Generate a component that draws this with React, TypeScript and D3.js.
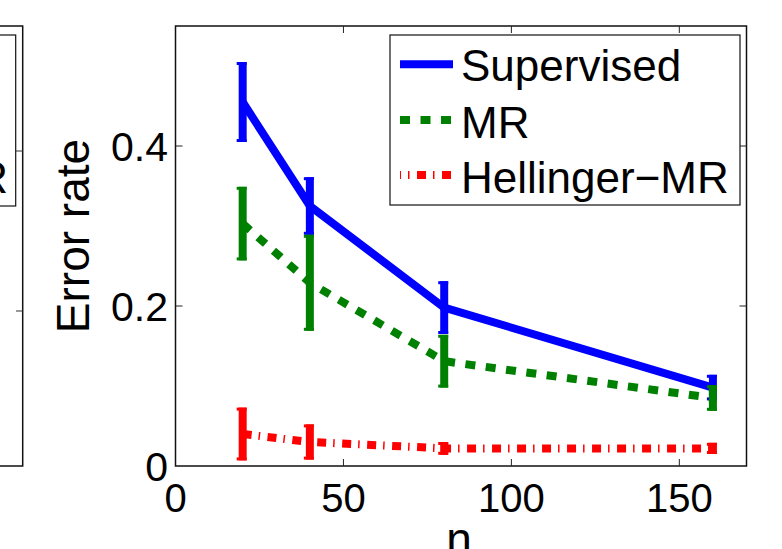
import React from "react";
import * as d3 from "d3";

const nValues = [20, 40, 80, 160];
const supervisedMean = [0.455, 0.325, 0.198, 0.098];
const supervisedErr = [0.05, 0.036, 0.033, 0.016];
const mrMean = [0.303, 0.229, 0.131, 0.085];
const mrErr = [0.046, 0.06, 0.033, 0.016];
const hellMean = [0.04, 0.03, 0.022, 0.022];
const hellErr = [0.033, 0.022, 0.008, 0.007];

const seriesNames = ["Supervised", "MR", "Hellinger\u2212MR"];
const seriesColors = ["#0000ff", "#008000", "#ff0000"];
const seriesDash = ["none", "10,10.5", "9,7,1.5,7.5"];

const xTicks = [0, 50, 100, 150];
const yTicks = [0, 0.2, 0.4];
const yTickLabels = ["0", "0.2", "0.4"];
const xLabel = "n";
const yLabel = "Error rate";

const W = 782;
const H = 549;
const FONT = "'Liberation Sans', Arial, Helvetica, sans-serif";

export default function App() {
  const left = 175.5, right = 746.5, top = 26, bottom = 466;
  const x = d3.scaleLinear().domain([0, 170]).range([left, right]);
  const y = d3.scaleLinear().domain([0, 0.55]).range([bottom, top]);

  const means = [supervisedMean, mrMean, hellMean];
  const errs = [supervisedErr, mrErr, hellErr];

  const line = d3
    .line<[number, number]>()
    .x((d) => x(d[0]))
    .y((d) => y(d[1]));

  const tickLen = 7;

  return (
    <svg
      width={W}
      height={H}
      viewBox={`0 0 ${W} ${H}`}
      style={{ position: "absolute", left: 0, top: 0, background: "#fff" }}
    >
      <rect x={0} y={0} width={W} height={H} fill="#fff" />

      {/* partial neighbouring plot on the left */}
      <g>
        <rect x={-400} y={top} width={422.7} height={bottom - top} fill="none" stroke="#111" strokeWidth={1.5} />
        {yTicks.slice(1).map((t, i) => (
          <line key={i} x1={16} x2={22.7} y1={y(t) + 5} y2={y(t) + 5} stroke="#333" strokeWidth={1} />
        ))}
        <rect x={-400} y={35} width={415.7} height={171} fill="#fff" stroke="#111" strokeWidth={1.2} />
        <text x={8} y={193} fontSize={44} fontFamily={FONT} textAnchor="end" fill="#000">
          {seriesNames[2]}
        </text>
      </g>

      {/* axes box */}
      <rect x={left} y={top} width={right - left} height={bottom - top} fill="#fff" stroke="#111" strokeWidth={1.5} />

      {/* ticks */}
      {xTicks.slice(1).map((t) => (
        <g key={"xt" + t}>
          <line x1={x(t)} x2={x(t)} y1={bottom} y2={bottom - tickLen} stroke="#222" strokeWidth={1} />
          <line x1={x(t)} x2={x(t)} y1={top} y2={top + tickLen} stroke="#222" strokeWidth={1} />
        </g>
      ))}
      {yTicks.slice(1).map((t) => (
        <g key={"yt" + t}>
          <line x1={left} x2={left + tickLen} y1={y(t)} y2={y(t)} stroke="#222" strokeWidth={1} />
          <line x1={right} x2={right - tickLen} y1={y(t)} y2={y(t)} stroke="#222" strokeWidth={1} />
        </g>
      ))}

      {/* tick labels */}
      {xTicks.map((t) => (
        <text key={"xl" + t} x={x(t)} y={512} fontSize={40} fontFamily={FONT} textAnchor="middle" fill="#000">
          {t}
        </text>
      ))}
      {yTicks.map((t, i) => (
        <text key={"yl" + t} x={168} y={y(t) + 15} fontSize={41} fontFamily={FONT} textAnchor="end" fill="#000">
          {yTickLabels[i]}
        </text>
      ))}

      {/* axis labels */}
      <text x={(left + right) / 2 - 2} y={555} fontSize={46} fontFamily={FONT} textAnchor="middle" fill="#000">
        {xLabel}
      </text>
      <text
        transform={`translate(89, ${(top + bottom) / 2 - 10}) rotate(-90)`}
        fontSize={46}
        fontFamily={FONT}
        textAnchor="middle"
        fill="#000"
      >
        {yLabel}
      </text>

      {/* series */}
      {means.map((m, s) => {
        const pts: [number, number][] = nValues.map((n, i) => [n, m[i]]);
        return (
          <g key={"s" + s}>
            <path
              d={line(pts) || ""}
              fill="none"
              stroke={seriesColors[s]}
              strokeWidth={8}
              strokeDasharray={seriesDash[s]}
              strokeLinejoin="miter"
            />
            {nValues.map((n, i) => {
              const cx = x(n);
              const y1 = y(m[i] + errs[s][i]);
              const y2 = y(m[i] - errs[s][i]);
              return (
                <g key={"e" + i}>
                  <line x1={cx} x2={cx} y1={y1} y2={y2} stroke={seriesColors[s]} strokeWidth={8} />
                  <line x1={cx - 6} x2={cx + 4} y1={y1 + 1.5} y2={y1 + 1.5} stroke={seriesColors[s]} strokeWidth={3} />
                  <line x1={cx - 6} x2={cx + 4} y1={y2 - 1.5} y2={y2 - 1.5} stroke={seriesColors[s]} strokeWidth={3} />
                </g>
              );
            })}
          </g>
        );
      })}

      {/* legend */}
      <rect x={390} y={35} width={350} height={170} fill="#fff" stroke="#111" strokeWidth={1.2} />
      {seriesNames.map((name, i) => {
        const ly = [64.3, 120, 175][i];
        const ty = [81, 138, 193][i];
        return (
          <g key={"lg" + i}>
            <line
              x1={400}
              x2={453}
              y1={ly}
              y2={ly}
              stroke={seriesColors[i]}
              strokeWidth={8}
              strokeDasharray={seriesDash[i]}
              strokeDashoffset={i === 2 ? -17 : 0}
            />
            <text x={461} y={ty} fontSize={44} fontFamily={FONT} fill="#000">
              {name}
            </text>
          </g>
        );
      })}
    </svg>
  );
}
